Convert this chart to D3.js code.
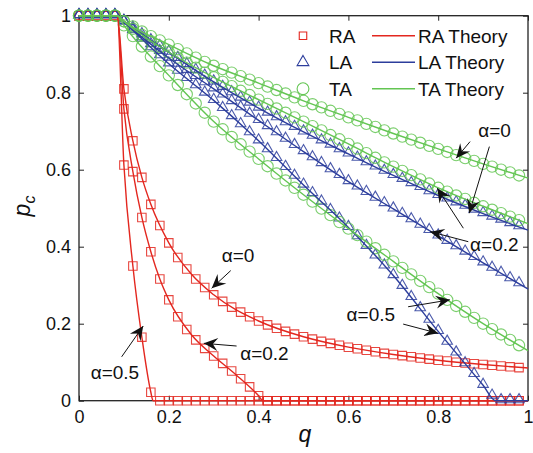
<!DOCTYPE html>
<html>
<head>
<meta charset="utf-8">
<script src="https://cdn.jsdelivr.net/npm/d3@7"></script>
<style>
  body { margin: 0; background: #fff; }
  svg text { font-family: "Liberation Sans", Arial, sans-serif; fill: #111; }
</style>
</head>
<body>
<svg id="chart" width="533" height="453"></svg>
<script>
// q values of the simulation points
const qValues = [0,0.02,0.04,0.06,0.08,0.1,0.12,0.14,0.16,0.18,0.2,0.22,0.24,0.26,0.28,0.3,0.32,0.34,0.36,0.38,
  0.4,0.42,0.44,0.46,0.48,0.5,0.52,0.54,0.56,0.58,0.6,0.62,0.64,0.66,0.68,0.7,0.72,0.74,0.76,0.78,
  0.8,0.82,0.84,0.86,0.88,0.9,0.92,0.94,0.96,0.98];

// simulation results (p_c), random attack
const raAlpha0 = [1,1,1,1,1, 0.81,0.675,0.58,0.51,0.455, 0.41,0.372,0.342,0.316,0.294, 0.275,0.258,0.243,0.23,0.218,
  0.207,0.197,0.188,0.18,0.173, 0.166,0.16,0.154,0.149,0.144, 0.139,0.135,0.131,0.127,0.123, 0.12,0.117,0.114,0.111,0.108,
  0.105,0.103,0.1,0.098,0.096, 0.094,0.092,0.09,0.088,0.086];
const raAlpha02 = [1,1,1,1,1, 0.758,0.595,0.476,0.387,0.316, 0.262,0.218,0.185,0.158,0.136, 0.116,0.097,0.077,0.057,0.036,
  0.013,0,0,0,0, 0,0,0,0,0, 0,0,0,0,0, 0,0,0,0,0, 0,0,0,0,0, 0,0,0,0,0];
const raAlpha05 = [1,1,1,1,1, 0.612,0.35,0.165,0.022,0, 0,0,0,0,0, 0,0,0,0,0,
  0,0,0,0,0, 0,0,0,0,0, 0,0,0,0,0, 0,0,0,0,0, 0,0,0,0,0, 0,0,0,0,0];

// localized attack
const laAlpha0 = [1,1,1,1,1, 0.986,0.968,0.951,0.935,0.92, 0.905,0.889,0.873,0.858,0.843, 0.828,0.814,0.8,0.786,0.773,
  0.76,0.747,0.735,0.722,0.71, 0.698,0.687,0.675,0.664,0.652, 0.641,0.63,0.618,0.607,0.596, 0.585,0.575,0.564,0.554,0.543,
  0.533,0.524,0.514,0.505,0.495, 0.486,0.477,0.469,0.46,0.452];
const laAlpha02 = [1,1,1,1,1, 0.984,0.963,0.943,0.925,0.907, 0.89,0.874,0.858,0.842,0.826, 0.81,0.794,0.777,0.761,0.744,
  0.728,0.712,0.696,0.679,0.663, 0.647,0.631,0.616,0.6,0.585, 0.569,0.555,0.541,0.526,0.512, 0.498,0.484,0.47,0.456,0.442,
  0.428,0.414,0.4,0.386,0.372, 0.358,0.344,0.331,0.317,0.304];
const laAlpha05 = [1,1,1,1,1, 0.984,0.961,0.939,0.917,0.896, 0.875,0.856,0.837,0.818,0.799, 0.78,0.759,0.738,0.717,0.696,
  0.675,0.652,0.629,0.606,0.583, 0.56,0.538,0.516,0.494,0.472, 0.45,0.426,0.401,0.376,0.35, 0.325,0.297,0.268,0.239,0.209,
  0.18,0.152,0.124,0.096,0.068, 0.04,0.012,0,0,0];

// targeted attack
const taAlpha0 = [1,1,1,1,1, 0.986,0.972,0.959,0.947,0.936, 0.925,0.913,0.902,0.891,0.88, 0.87,0.861,0.852,0.843,0.834,
  0.825,0.816,0.807,0.798,0.788, 0.779,0.77,0.762,0.753,0.745, 0.736,0.728,0.719,0.711,0.702, 0.694,0.686,0.678,0.67,0.662,
  0.654,0.646,0.638,0.63,0.623, 0.615,0.608,0.6,0.593,0.585];
const taAlpha02 = [1,1,1,1,1, 0.985,0.966,0.95,0.934,0.919, 0.905,0.891,0.878,0.865,0.852, 0.84,0.828,0.817,0.805,0.794,
  0.782,0.771,0.759,0.748,0.736, 0.725,0.713,0.702,0.69,0.679, 0.667,0.655,0.643,0.631,0.619, 0.608,0.597,0.586,0.575,0.564,
  0.553,0.543,0.533,0.524,0.514, 0.505,0.496,0.487,0.478,0.469];
const taAlpha05 = [1,1,1,1,1, 0.975,0.947,0.92,0.894,0.869, 0.845,0.82,0.796,0.772,0.748, 0.725,0.705,0.685,0.666,0.647,
  0.628,0.609,0.59,0.572,0.553, 0.535,0.517,0.499,0.482,0.464, 0.447,0.43,0.413,0.396,0.379, 0.362,0.345,0.328,0.311,0.295,
  0.278,0.262,0.246,0.231,0.215, 0.2,0.186,0.172,0.158,0.144];

// theory curves as [q, p_c]
const raTheory0 = [[0,1],[0.085,1],[0.1,0.81],[0.12,0.675],[0.14,0.58],[0.16,0.51],[0.2,0.41],[0.25,0.329],[0.3,0.275],
  [0.4,0.207],[0.5,0.166],[0.6,0.139],[0.7,0.12],[0.8,0.105],[0.9,0.094],[1,0.085]];
const raTheory02 = [[0,1],[0.085,1],[0.1,0.758],[0.12,0.595],[0.14,0.476],[0.16,0.387],[0.18,0.316],[0.2,0.262],
  [0.25,0.172],[0.3,0.116],[0.35,0.067],[0.4,0.013],[0.41,0],[1,0]];
const raTheory05 = [[0,1],[0.085,1],[0.1,0.612],[0.12,0.35],[0.14,0.165],[0.16,0.022],[0.165,0],[1,0]];
const laTheory0 = [[0,1],[0.085,1],[0.1,0.986],[0.2,0.905],[0.3,0.828],[0.4,0.76],[0.5,0.698],[0.6,0.641],[0.7,0.585],
  [0.8,0.533],[0.9,0.486],[1,0.443]];
const laTheory02 = [[0,1],[0.085,1],[0.1,0.984],[0.2,0.89],[0.3,0.81],[0.4,0.728],[0.5,0.647],[0.6,0.569],[0.7,0.498],
  [0.8,0.428],[0.9,0.358],[1,0.29]];
const laTheory05 = [[0,1],[0.085,1],[0.1,0.984],[0.2,0.875],[0.3,0.78],[0.4,0.675],[0.5,0.56],[0.6,0.45],[0.7,0.325],
  [0.8,0.18],[0.9,0.04],[0.928,0],[1,0]];
const taTheory0 = [[0,1],[0.085,1],[0.1,0.986],[0.2,0.925],[0.3,0.87],[0.4,0.825],[0.5,0.779],[0.6,0.736],[0.7,0.694],
  [0.8,0.654],[0.9,0.615],[1,0.578]];
const taTheory02 = [[0,1],[0.085,1],[0.1,0.985],[0.2,0.905],[0.3,0.84],[0.4,0.782],[0.5,0.725],[0.6,0.667],[0.7,0.608],
  [0.8,0.553],[0.9,0.505],[1,0.46]];
const taTheory05 = [[0,1],[0.085,1],[0.1,0.975],[0.2,0.845],[0.3,0.725],[0.4,0.628],[0.5,0.535],[0.6,0.447],[0.7,0.362],
  [0.8,0.278],[0.9,0.2],[1,0.13]];

const tickValues = [0, 0.2, 0.4, 0.6, 0.8, 1];
const legendLabels = ["RA", "LA", "TA"];

// annotation labels: text anchor [q, p] and arrows [fromQ, fromP, toQ, toP]
const annotations = [
  { label: "α=0",   at: [0.318, 0.360], arrows: [[0.338, 0.338, 0.2955, 0.292]] },
  { label: "α=0.2", at: [0.359, 0.106], arrows: [[0.351, 0.142, 0.278, 0.149]] },
  { label: "α=0.5", at: [0.026, 0.056], arrows: [[0.095, 0.114, 0.143, 0.194]] },
  { label: "α=0",   at: [0.889, 0.685], arrows: [[0.871, 0.673, 0.84, 0.63], [0.914, 0.66, 0.869, 0.487]] },
  { label: "α=0.2", at: [0.871, 0.389], arrows: [[0.856, 0.448, 0.798, 0.552], [0.867, 0.413, 0.782, 0.439]] },
  { label: "α=0.5", at: [0.596, 0.207], arrows: [[0.733, 0.244, 0.826, 0.262], [0.722, 0.199, 0.80, 0.175]] }
];

const colors = { RA: "#e3271f", LA: "#2c3d9c", TA: "#63c552" };

const svg = d3.select("#chart");
const x = d3.scaleLinear().domain([0, 1]).range([79, 528]);
const y = d3.scaleLinear().domain([0, 1]).range([400.7, 15.7]);

// axes with inward ticks on all four sides
const fmt = d3.format("~g");
const axisB = svg.append("g").attr("transform", `translate(0,${y(0)})`)
  .call(d3.axisBottom(x).tickValues(tickValues).tickSizeInner(-5).tickSizeOuter(0).tickPadding(10).tickFormat(fmt));
const axisL = svg.append("g").attr("transform", `translate(${x(0)},0)`)
  .call(d3.axisLeft(y).tickValues(tickValues).tickSizeInner(-5).tickSizeOuter(0).tickPadding(8).tickFormat(fmt));
const axisT = svg.append("g").attr("transform", `translate(0,${y(1)})`)
  .call(d3.axisTop(x).tickValues(tickValues).tickSizeInner(-5).tickSizeOuter(0).tickFormat(""));
const axisR = svg.append("g").attr("transform", `translate(${x(1)},0)`)
  .call(d3.axisRight(y).tickValues(tickValues).tickSizeInner(-5).tickSizeOuter(0).tickFormat(""));

[axisB, axisL, axisT, axisR].forEach(g => {
  g.select(".domain").remove();
  g.selectAll(".tick line").attr("stroke", "#222").attr("stroke-width", 1);
  g.selectAll(".tick text").attr("font-size", 18).attr("fill", "#111")
    .attr("font-family", "'Liberation Sans', Arial, sans-serif");
});

svg.append("rect")
  .attr("x", x(0)).attr("y", y(1))
  .attr("width", x(1) - x(0)).attr("height", y(0) - y(1))
  .attr("fill", "none").attr("stroke", "#222").attr("stroke-width", 1.3);

// axis labels
svg.append("text")
  .attr("x", 305).attr("y", 442)
  .attr("text-anchor", "middle")
  .attr("font-size", 23).attr("font-style", "italic")
  .text("q");

const yLabel = svg.append("text")
  .attr("transform", "translate(30,206) rotate(-90)")
  .attr("text-anchor", "middle")
  .attr("font-size", 23).attr("font-style", "italic");
yLabel.append("tspan").text("p");
yLabel.append("tspan").attr("font-size", 16).attr("dy", 5).text("c");

// series
const series = [
  { type: "RA", values: [raAlpha0, raAlpha02, raAlpha05], theory: [raTheory0, raTheory02, raTheory05] },
  { type: "LA", values: [laAlpha0, laAlpha02, laAlpha05], theory: [laTheory0, laTheory02, laTheory05] },
  { type: "TA", values: [taAlpha0, taAlpha02, taAlpha05], theory: [taTheory0, taTheory02, taTheory05] }
];

const symbols = {
  RA: d3.symbol().type(d3.symbolSquare).size(72),
  LA: d3.symbol().type(d3.symbolTriangle).size(48),
  TA: d3.symbol().type(d3.symbolCircle).size(100)
};

const line = d3.line()
  .x(d => x(d[0]))
  .y(d => y(d[1]))
  .curve(d3.curveMonotoneX);

const plot = svg.append("g").attr("class", "plot");

series.forEach(s => {
  s.values.forEach(vals => {
    plot.append("g")
      .selectAll("path")
      .data(vals.map((v, i) => [qValues[i], v]))
      .enter().append("path")
      .attr("d", symbols[s.type])
      .attr("transform", d => `translate(${x(d[0])},${y(d[1]) - (s.type === "LA" ? 1 : 0)})`)
      .attr("fill", "none")
      .attr("stroke", colors[s.type])
      .attr("stroke-opacity", 0.85)
      .attr("stroke-width", 1.1);
  });
});

series.forEach(s => {
  s.theory.forEach(t => {
    plot.append("path")
      .datum(t)
      .attr("d", line)
      .attr("fill", "none")
      .attr("stroke", colors[s.type])
      .attr("stroke-width", 1.4);
  });
});

// legend
const legend = svg.append("g").attr("class", "legend");
legendLabels.forEach((lab, i) => {
  const cy = 35.7 + i * 26.5;
  legend.append("path")
    .attr("d", d3.symbol().type(lab === "RA" ? d3.symbolSquare : lab === "LA" ? d3.symbolTriangle : d3.symbolCircle)
      .size(lab === "RA" ? 56 : lab === "LA" ? 60 : 110))
    .attr("transform", `translate(303,${cy})`)
    .attr("fill", "none").attr("stroke", colors[lab]).attr("stroke-width", 1.1);
  legend.append("text").attr("x", 329).attr("y", cy + 7).attr("font-size", 19).text(lab);
  legend.append("line")
    .attr("x1", 372).attr("x2", 415).attr("y1", cy).attr("y2", cy)
    .attr("stroke", colors[lab]).attr("stroke-width", 1.4);
  legend.append("text").attr("x", 418).attr("y", cy + 7).attr("font-size", 19).text(lab + " Theory");
});

// annotations with arrows
function arrowHead(x1, y1, x2, y2) {
  const ang = Math.atan2(y2 - y1, x2 - x1);
  const L = 14, W = 6.5, N = 9;
  const pts = [[0, 0], [-L, -W], [-N, 0], [-L, W]].map(([px, py]) => [
    x2 + px * Math.cos(ang) - py * Math.sin(ang),
    y2 + px * Math.sin(ang) + py * Math.cos(ang)
  ]);
  return "M" + pts.map(p => p.join(",")).join("L") + "Z";
}

const notes = svg.append("g").attr("class", "annotations");
annotations.forEach(a => {
  notes.append("text")
    .attr("x", x(a.at[0])).attr("y", y(a.at[1]))
    .attr("font-size", 19)
    .text(a.label);
  a.arrows.forEach(([q1, p1, q2, p2]) => {
    const x1 = x(q1), y1 = y(p1), x2 = x(q2), y2 = y(p2);
    notes.append("line")
      .attr("x1", x1).attr("y1", y1).attr("x2", x2).attr("y2", y2)
      .attr("stroke", "#111").attr("stroke-width", 1);
    notes.append("path")
      .attr("d", arrowHead(x1, y1, x2, y2))
      .attr("fill", "#111");
  });
});
</script>
</body>
</html>
